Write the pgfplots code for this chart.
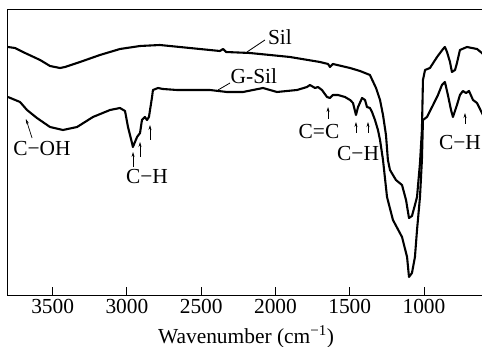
\documentclass[border=0pt]{standalone}
\usepackage{fontspec}
\setmainfont{Liberation Serif}
\usepackage{pgfplots}
\usepackage{pgfplotstable}
\pgfplotsset{compat=1.18}
\usetikzlibrary{arrows.meta}

\pgfplotstableread{
w y
3801 248
3754 247
3686 242
3585 235
3518 229
3451 227
3417 228
3316 233
3182 240
3047 246
2912 249
2778 250
2576 247
2374 244
2353 246
2333 243
2172 242
1902 238
1700 233
1646 231
1633 228
1613 231
1498 227
1431 224
1364 220
1323 207
1296 195
1276 180
1256 160
1243 135
1229 125
1189 115
1148 110
1121 95
1101 77
1081 79
1061 90
1047 98
1027 132
1014 165
1007 215
993 225
960 227
912 238
872 246
859 248
845 243
825 233
812 223
791 225
778 232
758 245
711 248
643 246
610 242
596 240
}\sil

\pgfplotstableread{
w y
3801 198
3720 193
3673 185
3606 177
3518 168
3431 165
3336 168
3229 178
3114 185
3047 187
3013 184
2993 168
2966 152
2960 148
2946 153
2932 158
2912 162
2899 175
2879 178
2865 175
2852 178
2831 198
2825 205
2791 207
2757 206
2663 205
2555 205
2441 205
2327 203
2219 203
2084 207
1990 203
1855 205
1788 208
1768 210
1734 207
1714 208
1687 205
1653 198
1633 197
1613 200
1579 200
1532 198
1498 195
1478 192
1458 180
1444 188
1417 197
1397 195
1384 188
1364 187
1350 183
1330 175
1310 165
1296 155
1276 135
1249 98
1209 75
1148 58
1114 38
1101 18
1081 22
1061 38
1047 65
1027 98
1014 135
1007 175
980 178
939 190
906 200
879 210
859 213
839 200
818 185
805 178
778 190
758 200
738 204
717 202
697 204
670 195
643 192
610 182
596 178
}\gsil

\begin{document}
\begin{tikzpicture}[font=\fontsize{21.5}{25}\selectfont]
\useasboundingbox (-8bp,-52bp) rectangle (474bp,295bp);
\begin{axis}[
  at={(0,0)}, anchor=south west,
  scale only axis, width=476bp, height=285bp,
  x dir=reverse, xmin=596, xmax=3801, ymin=0, ymax=285,
  xtick={1000,1500,2000,2500,3000,3500}, ytick=\empty,
  scaled x ticks=false,
  /pgf/number format/1000 sep={},
  /pgf/number format/assume math mode=true,
  tick align=inside, xtick pos=left, major tick length=8bp,
  axis line style={line width=1pt},
  every tick/.style={line width=1pt, black},
  xticklabel style={yshift=-0.5bp},
  xlabel={Wavenumber (cm\textsuperscript{−1})},
  xlabel style={at={(axis description cs:0.5,0)}, anchor=base, yshift=-48bp},
  clip=false,
]
\addplot[black, line width=2.1pt, line join=round] table[x=w,y=y] {\sil};
\addplot[black, line width=2.1pt, line join=round] table[x=w,y=y] {\gsil};

% labels
\node at (axis cs:1970,258) {Sil};
\draw[line width=0.8pt] (axis cs:2071,255) -- (axis cs:2192,243);
\node at (axis cs:2145,219) {G-Sil};
\draw[line width=0.8pt] (axis cs:2306,212) -- (axis cs:2387,205);

\tikzset{ar/.style={line width=0.7pt, -{Stealth[length=5pt,width=3pt]}}}
\node at (axis cs:3572,146) {C−OH};
\draw[ar] (axis cs:3639,157) -- (axis cs:3680,176);

\node at (axis cs:2865,118) {C−H};
\draw[ar] (axis cs:2959,128) -- (axis cs:2959,143);
\draw[ar] (axis cs:2912,138) -- (axis cs:2912,153);
\draw[ar] (axis cs:2845,155) -- (axis cs:2845,170);

\node at (axis cs:1707,163) {C=C};
\draw[ar] (axis cs:1646,176) -- (axis cs:1646,188);

\node at (axis cs:1444,141) {C−H};
\draw[ar] (axis cs:1458,162) -- (axis cs:1458,173);
\draw[ar] (axis cs:1377,162) -- (axis cs:1377,173);

\node at (axis cs:758,152) {C−H};
\draw[ar] (axis cs:724,171) -- (axis cs:724,182);
\end{axis}
\end{tikzpicture}
\end{document}
